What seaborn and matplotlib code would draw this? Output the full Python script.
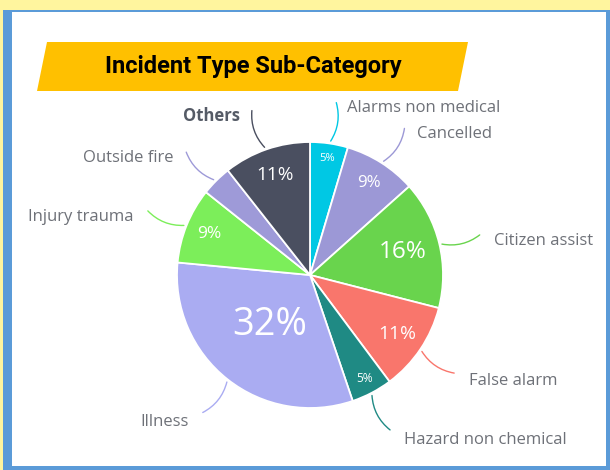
import numpy as np
import seaborn as sns
from matplotlib import pyplot as plt
from matplotlib.patches import Rectangle, Polygon

# data (percent of incidents), clockwise from 12 o'clock
categories = ['Alarms non medical', 'Cancelled', 'Citizen assist', 'False alarm',
              'Hazard non chemical', 'Illness', 'Injury trauma', 'Outside fire', 'Others']
shares = [4.6, 8.8, 15.6, 10.8, 5.0, 31.7, 9.2, 3.7, 10.6]
slice_colors = ['#00C8E4', '#9C98D6', '#69D44D', '#F9766C', '#1F8A84',
                '#AAACF2', '#7CEE5A', '#9E9AD8', '#4A4F60']
title = 'Incident Type Sub-Category'

sns.set_theme(style='white')
plt.rcParams['font.family'] = ['Open Sans', 'DejaVu Sans']
palette = sns.color_palette(slice_colors)

W, H = 610, 470
fig = plt.figure(figsize=(W / 100, H / 100), dpi=100)
fig.patch.set_facecolor('#FFF59E')

def fx(px):
    return px / W

def fy(py):
    return 1 - py / H

# frame: blue border + white panel
fig.add_artist(Rectangle((fx(3), fy(480)), fx(620), 1, transform=fig.transFigure,
                         facecolor='#5B9BD8', edgecolor='none', zorder=-3))
fig.add_artist(Rectangle((fx(12), fy(466)), fx(606 - 12), (466 - 12) / H,
                         transform=fig.transFigure, facecolor='white',
                         edgecolor='none', zorder=-2))

# title banner
banner = [(fx(47), fy(42)), (fx(468), fy(42)), (fx(458), fy(91)), (fx(37), fy(91))]
fig.add_artist(Polygon(banner, closed=True, transform=fig.transFigure,
                       facecolor='#FFC000', edgecolor='none', zorder=-1))
fig.text(fx(253), fy(67), title, ha='center', va='center', fontsize=17,
         fontweight='bold', family='Roboto', color='black')

# pie axes: 1 data unit = radius in pixels
cx, cy, R = 310, 275, 133
ax = fig.add_axes([0, 0, 1, 1])
ax.patch.set_alpha(0)
wedges, _ = ax.pie(shares, colors=palette, startangle=90, counterclock=False,
                   wedgeprops=dict(edgecolor='white', linewidth=1.3))
ax.set_xlim(-cx / R, (W - cx) / R)
ax.set_ylim(-(H - cy) / R, cy / R)
ax.set_aspect('auto')
ax.axis('off')

for w, name, v, col in zip(wedges, categories, shares, palette):
    mid = np.deg2rad((w.theta1 + w.theta2) / 2)
    ux, uy = np.cos(mid), np.sin(mid)

    # percent label inside the slice
    if v >= 4:
        d = 0.95 - 0.0147 * v
        ax.text(d * ux, d * uy, f'{round(v)}%', ha='center', va='center',
                color='white', fontsize=3.1 * v ** 0.63)

    # leader line and category label
    sx, sy = 1.0 * ux, 1.0 * uy
    ex, ey = 1.33 * ux, 1.33 * uy
    right = ux >= 0
    ax.annotate('', xy=(ex, ey), xytext=(sx, sy),
                arrowprops=dict(arrowstyle='-', color=col, lw=1,
                                connectionstyle='arc3,rad=%s' % (0.25 if right else -0.25)))
    bold = name == 'Others'
    ax.text(ex + (0.09 if right else -0.09), ey - 0.06, name,
            ha='left' if right else 'right', va='center', fontsize=12,
            color='#555B66' if bold else '#6E7178',
            fontweight='bold' if bold else 'normal')

fig.savefig('out.png', dpi=100)
